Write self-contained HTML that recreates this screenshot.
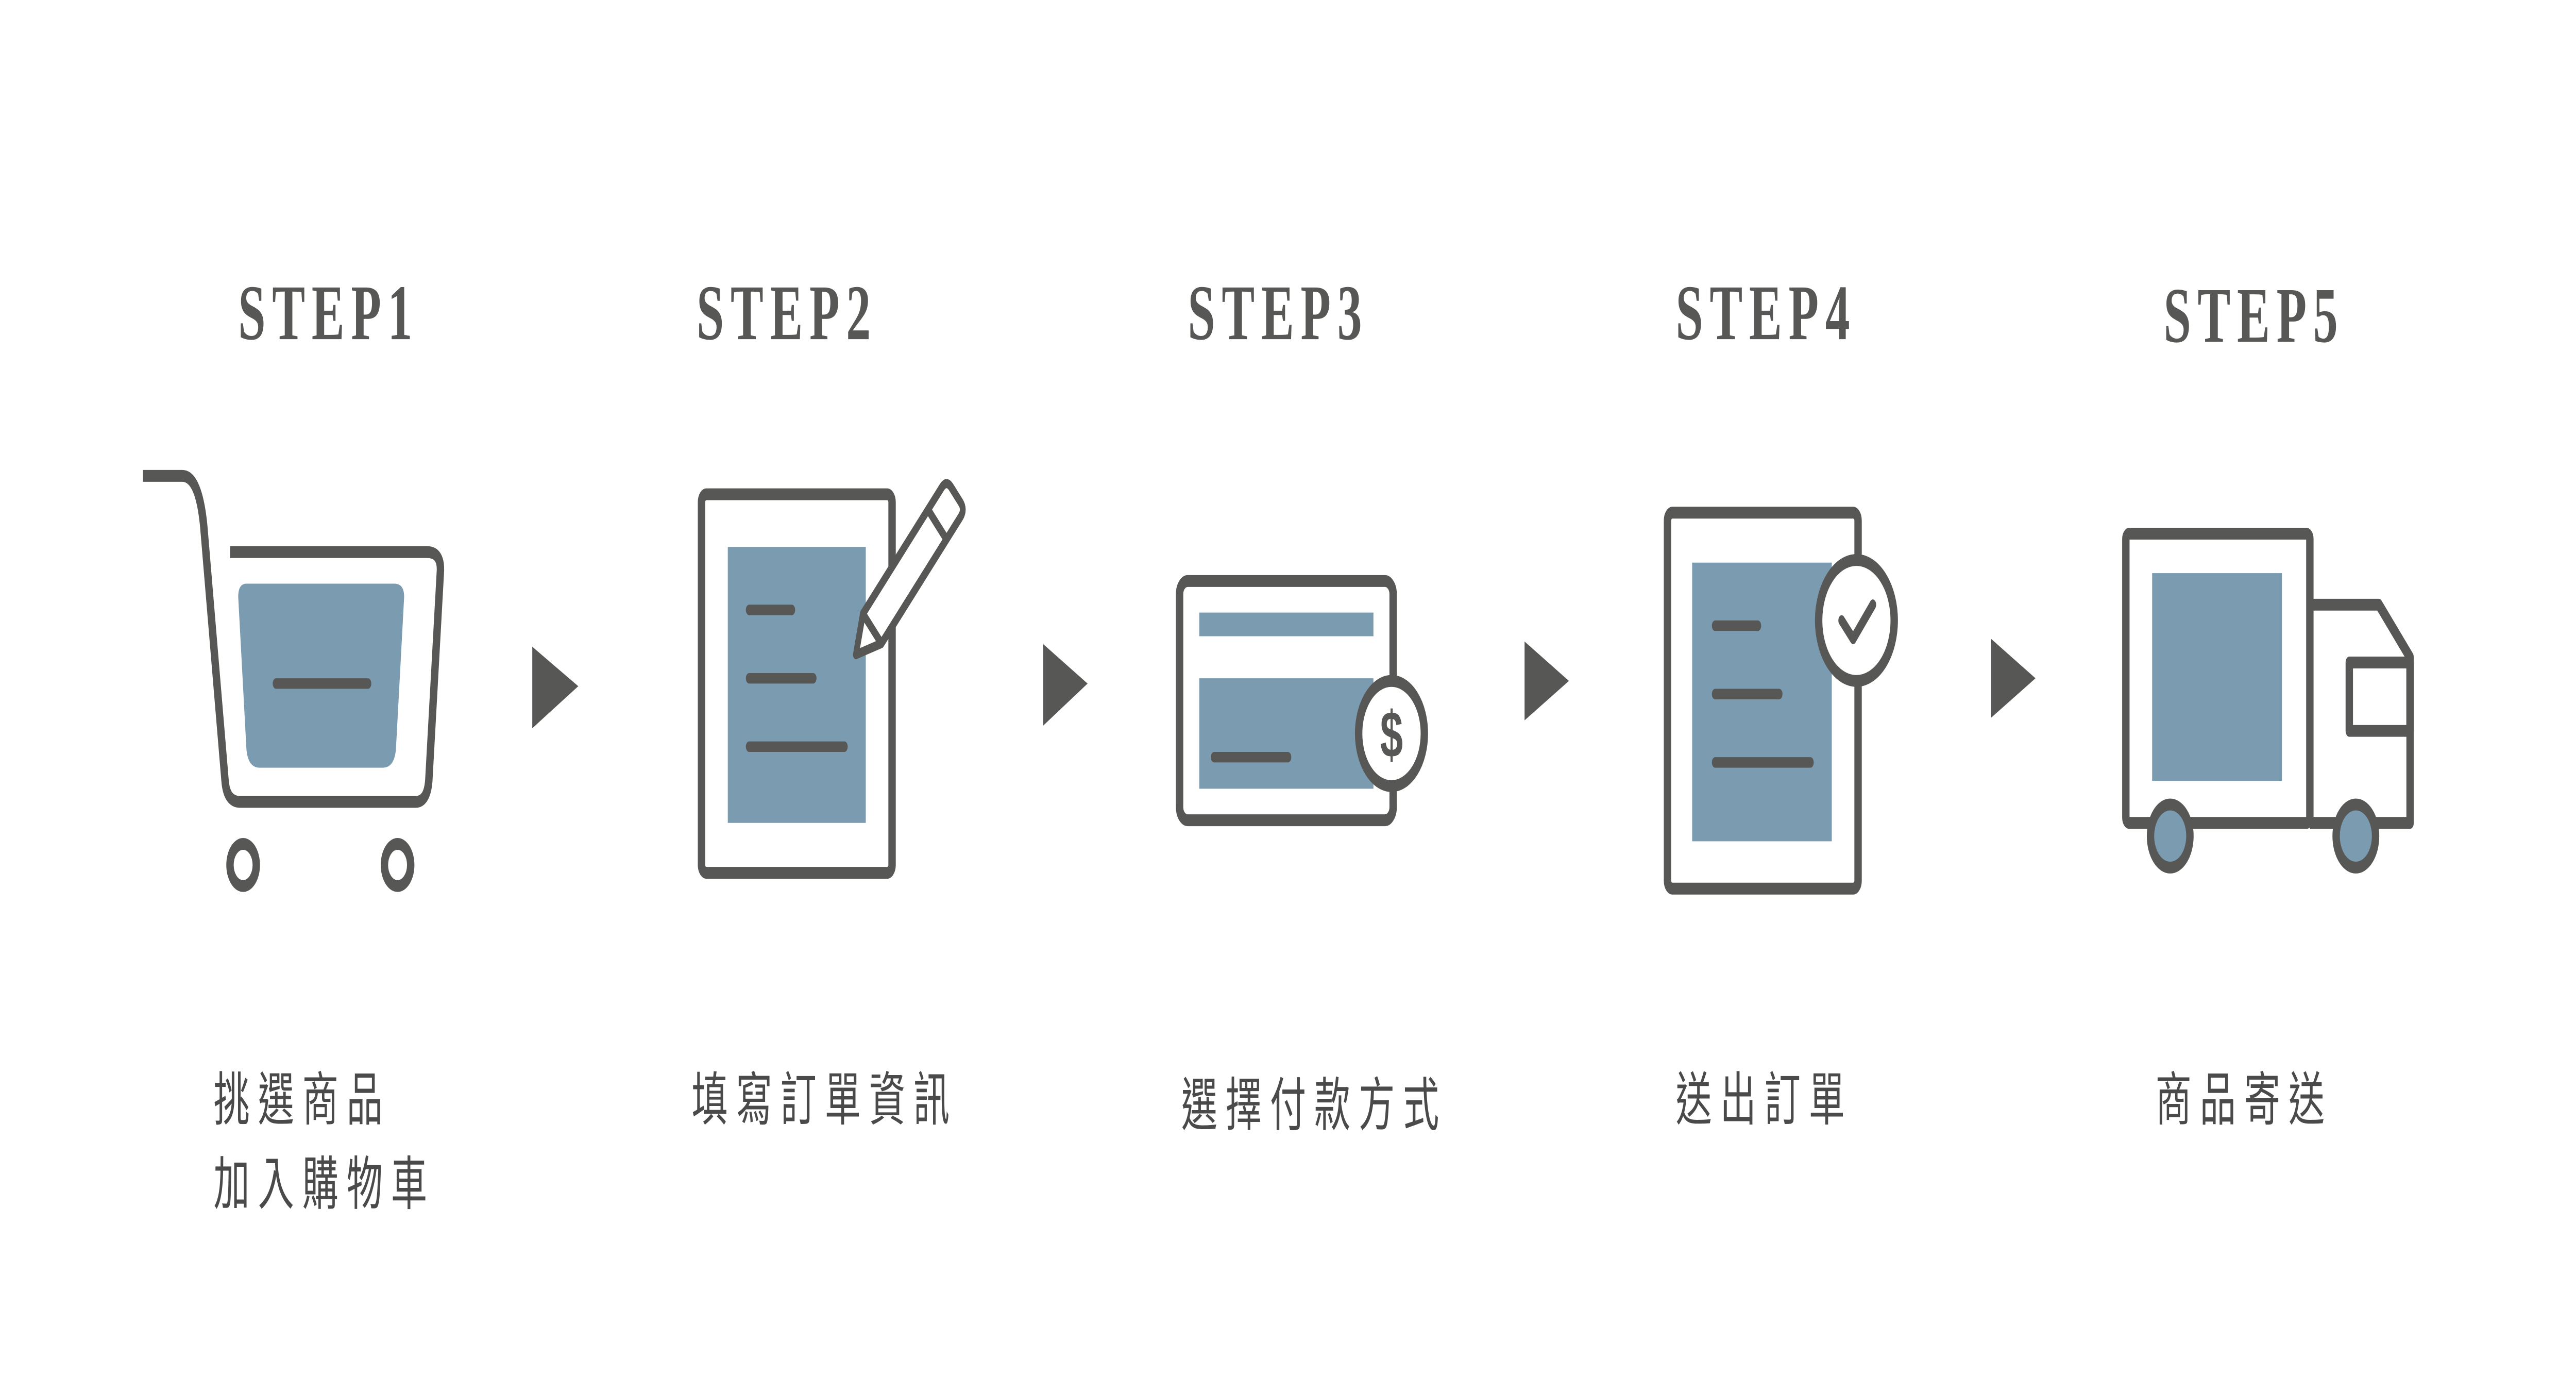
<!DOCTYPE html>
<html><head><meta charset="utf-8"><style>
html,body{margin:0;padding:0;background:#fff;width:100%;height:100%;overflow:hidden;}
svg{display:block;width:100vw;height:100vh;}
</style></head><body>
<svg viewBox="0 0 1568 523" preserveAspectRatio="none" xmlns="http://www.w3.org/2000/svg">
<rect width="1568" height="523" fill="#fff"/>
<g font-family="'Liberation Serif', serif" font-weight="bold" font-size="30" fill="#575756" letter-spacing="4" text-anchor="middle">
<text x="200" y="129">STEP1</text>
<text x="479" y="129">STEP2</text>
<text x="778" y="129">STEP3</text>
<text x="1075" y="129">STEP4</text>
<text x="1372" y="130">STEP5</text>
</g>
<g fill="none" stroke="#575756" stroke-width="4.5" stroke-linejoin="round" stroke-linecap="round">
<path d="M87,181 H111 Q121,181 124,200 L137,297 Q138,305 146,305 H253 Q260,305 261,297 L268,218 Q269,210 260,210 H140" stroke-linecap="butt"/>
<circle cx="148" cy="329" r="8"/><circle cx="242" cy="329" r="8"/>
</g>
<path d="M150,222 H240 Q246,222 246,227 L241,285 Q240,292 233,292 H158 Q151,292 150,285 L145,227 Q145,222 150,222 Z" fill="#7b9bb0"/>
<line x1="168" y1="260" x2="224" y2="260" stroke="#575756" stroke-width="4" stroke-linecap="round"/>

<g fill="#575756">
<polygon points="324,246 324,277 352,261"/>
<polygon points="635,245 635,276 662,260"/>
<polygon points="928,244 928,274 955,259"/>
<polygon points="1212,243 1212,273 1239,258"/>
</g>

<rect x="427" y="188" width="116" height="144" rx="3" fill="#fff" stroke="#575756" stroke-width="4.5"/>
<rect x="443" y="208" width="84" height="105" fill="#7b9bb0"/>
<g stroke="#575756" stroke-width="4" stroke-linecap="round">
<line x1="456" y1="232" x2="482" y2="232"/>
<line x1="456" y1="258" x2="495" y2="258"/>
<line x1="456" y1="284" x2="514" y2="284"/>
</g>
<g transform="translate(521,249) rotate(-45)" fill="#fff" stroke="#575756" stroke-width="3.5" stroke-linejoin="round">
<path d="M0,0 L14,-8 H82 Q86,-8 86,-4 V4 Q86,8 82,8 H14 Z"/>
<line x1="70" y1="-8" x2="70" y2="8"/>
<line x1="14" y1="-8" x2="14" y2="8"/>
</g>

<rect x="718" y="221" width="130" height="91" rx="5" fill="#fff" stroke="#575756" stroke-width="4.5"/>
<rect x="730" y="233" width="106" height="9" fill="#7b9bb0"/>
<rect x="730" y="258" width="106" height="42" fill="#7b9bb0"/>
<line x1="739" y1="288" x2="784" y2="288" stroke="#575756" stroke-width="4" stroke-linecap="round"/>
<circle cx="847" cy="279" r="20" fill="#fff" stroke="#575756" stroke-width="4.5"/>
<text x="847" y="288" font-family="'Liberation Sans', sans-serif" font-weight="bold" font-size="25" fill="#575756" text-anchor="middle">$</text>

<rect x="1015" y="195" width="116" height="143" rx="3" fill="#fff" stroke="#575756" stroke-width="4.5"/>
<rect x="1030" y="214" width="85" height="106" fill="#7b9bb0"/>
<g stroke="#575756" stroke-width="4" stroke-linecap="round">
<line x1="1044" y1="238" x2="1070" y2="238"/>
<line x1="1044" y1="264" x2="1083" y2="264"/>
<line x1="1044" y1="290" x2="1102" y2="290"/>
</g>
<circle cx="1130" cy="236" r="23" fill="#fff" stroke="#575756" stroke-width="4.5"/>
<polyline points="1121,236 1128,243 1140,230" fill="none" stroke="#575756" stroke-width="4" stroke-linecap="round" stroke-linejoin="round"/>

<g fill="none" stroke="#575756" stroke-width="4.5" stroke-linejoin="round">
<rect x="1294" y="203" width="112" height="110" rx="2"/>
<path d="M1406,230 H1448 L1467,250 V313 H1406"/>
<rect x="1430" y="252" width="37" height="26"/>
</g>
<rect x="1310" y="218" width="79" height="79" fill="#7b9bb0"/>
<circle cx="1321" cy="318" r="12" fill="#7b9bb0" stroke="#575756" stroke-width="4.5"/>
<circle cx="1434" cy="318" r="12" fill="#7b9bb0" stroke="#575756" stroke-width="4.5"/>

<g font-family="'Liberation Sans', 'Noto Sans CJK TC', sans-serif" font-size="22" fill="#4a4a4a" letter-spacing="5">
<text x="130" y="426">挑選商品</text>
<text x="130" y="458">加入購物車</text>
<text x="421" y="426">填寫訂單資訊</text>
<text x="719" y="428">選擇付款方式</text>
<text x="1020" y="426">送出訂單</text>
<text x="1312" y="426">商品寄送</text>
</g>
</svg>
</body></html>
